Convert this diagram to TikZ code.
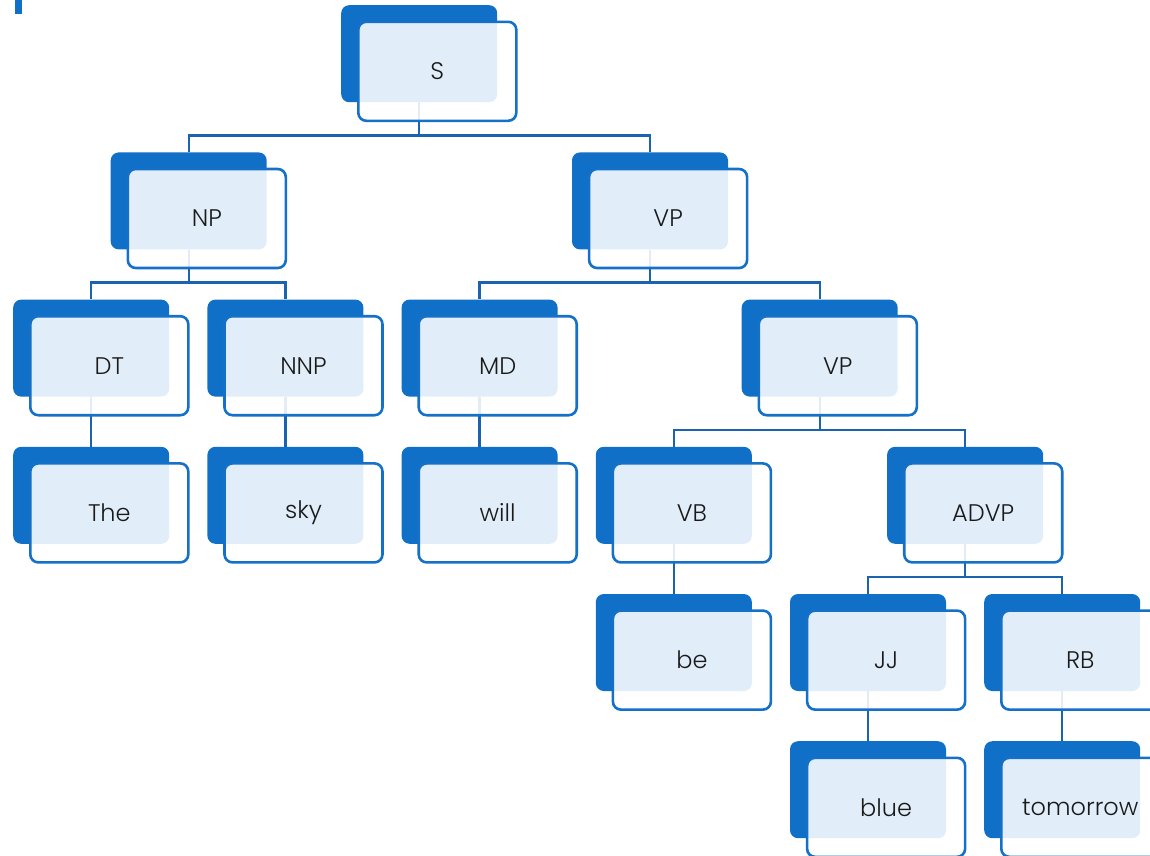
\documentclass[tikz,border=0pt]{standalone}
\usepackage{fontspec}
\setmainfont{Poppins Light}
\definecolor{dblue}{HTML}{106FC6}
\definecolor{lblue}{HTML}{1570C8}
\definecolor{cblue}{HTML}{1B63AE}
\definecolor{txt}{HTML}{1A1A1A}
\tikzset{
  darkbox/.style={anchor=north west, minimum width=156pt, minimum height=97pt, inner sep=0pt,
    rounded corners=8pt, fill=dblue},
  litebox/.style={anchor=north west, minimum width=158pt, minimum height=99pt, inner sep=0pt,
    rounded corners=8pt, draw=lblue, line width=2.6pt, fill=white, fill opacity=0.88, text opacity=1,
    text=txt, font=\fontsize{24}{28}\selectfont},
  conn/.style={draw=cblue, line width=2.4pt},
}
\newcommand{\tnode}[4]{%
  \node[darkbox] (#1) at (#2,#3) {};
  \node[litebox] (#1-o) at (#2+16,#3+15.5) {#4};
}
\begin{document}
\begin{tikzpicture}[x=1pt,y=-1pt]
\useasboundingbox (0,0) rectangle (1150,855);
\clip (0,0) rectangle (1150,855);
% anchors for connectors (same positions as the visible nodes, drawn later)
\begin{scope}[opacity=0]
\node[darkbox] (S) at (341,5) {};
\node[darkbox] (NP) at (110.5,152.2) {};
\node[darkbox] (VP) at (571.8,152.2) {};
\node[darkbox] (DT) at (13,299.4) {};
\node[darkbox] (NNP) at (207.2,299.4) {};
\node[darkbox] (MD) at (401.4,299.4) {};
\node[darkbox] (VP2) at (741.5,299.4) {};
\node[darkbox] (The) at (13,446.6) {};
\node[darkbox] (sky) at (207.2,446.6) {};
\node[darkbox] (will) at (401.4,446.6) {};
\node[darkbox] (VB) at (595.6,446.6) {};
\node[darkbox] (ADVP) at (886.9,446.6) {};
\node[darkbox] (be) at (595.6,593.8) {};
\node[darkbox] (JJ) at (789.8,593.8) {};
\node[darkbox] (RB) at (984,593.8) {};
\node[darkbox] (blue) at (789.8,741) {};
\node[darkbox] (tomorrow) at (984,741) {};
\end{scope}
% connectors
\draw[conn] (S.south) -- ++(0,33) -| (NP.north);
\draw[conn] (S.south) -- ++(0,33) -| (VP.north);
\draw[conn] (NP.south) -- ++(0,33) -| (DT.north);
\draw[conn] (NP.south) -- ++(0,33) -| (NNP.north);
\draw[conn] (VP.south) -- ++(0,33) -| (MD.north);
\draw[conn] (VP.south) -- ++(0,33) -| (VP2.north);
\draw[conn] (DT.south) -- (The.north);
\draw[conn] (NNP.south) -- (sky.north);
\draw[conn] (MD.south) -- (will.north);
\draw[conn] (VP2.south) -- ++(0,33) -| (VB.north);
\draw[conn] (VP2.south) -- ++(0,33) -| (ADVP.north);
\draw[conn] (VB.south) -- (be.north);
\draw[conn] (ADVP.south) -- ++(0,33) -| (JJ.north);
\draw[conn] (ADVP.south) -- ++(0,33) -| (RB.north);
\draw[conn] (JJ.south) -- (blue.north);
\draw[conn] (RB.south) -- (tomorrow.north);
% visible nodes
\tnode{S}{341}{5}{S}
\tnode{NP}{110.5}{152.2}{NP}
\tnode{VP}{571.8}{152.2}{VP}
\tnode{DT}{13}{299.4}{DT}
\tnode{NNP}{207.2}{299.4}{NNP}
\tnode{MD}{401.4}{299.4}{MD}
\tnode{VP2}{741.5}{299.4}{VP}
\tnode{The}{13}{446.6}{The}
\tnode{sky}{207.2}{446.6}{sky}
\tnode{will}{401.4}{446.6}{will}
\tnode{VB}{595.6}{446.6}{VB}
\tnode{ADVP}{886.9}{446.6}{ADVP}
\tnode{be}{595.6}{593.8}{be}
\tnode{JJ}{789.8}{593.8}{JJ}
\tnode{RB}{984}{593.8}{RB}
\tnode{blue}{789.8}{741}{blue}
\tnode{tomorrow}{984}{741}{tomorrow}
% small mark at top-left
\fill[dblue] (14.5,0) rectangle (21.5,14);
\end{tikzpicture}
\end{document}
